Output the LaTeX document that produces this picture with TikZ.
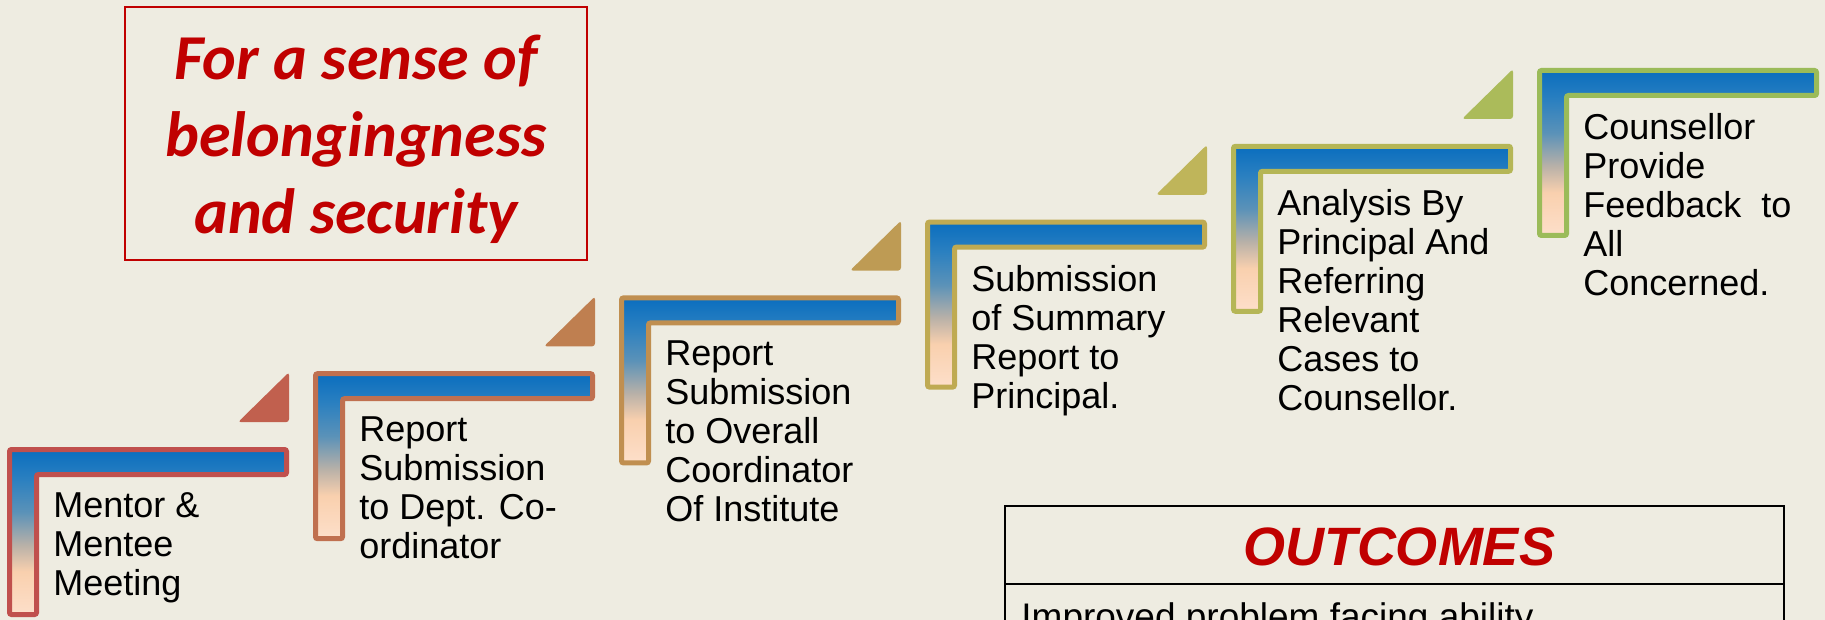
\documentclass[tikz,border=0pt]{standalone}
\usepackage{fontspec}
\setmainfont{Liberation Sans}
\newfontfamily\titlefont{Carlito}
\definecolor{bgcol}{HTML}{EEECE1}
\definecolor{darkred}{HTML}{C00000}
% border colours of the steps, red to green
\definecolor{s1}{HTML}{C0504D}
\definecolor{s2}{HTML}{C0704F}
\definecolor{s3}{HTML}{C08F50}
\definecolor{s4}{HTML}{BFAA52}
\definecolor{s5}{HTML}{B5B656}
\definecolor{s6}{HTML}{9BBB59}
% little triangles between the steps
\definecolor{t1}{HTML}{C1604E}
\definecolor{t2}{HTML}{BF7F50}
\definecolor{t3}{HTML}{BE9B54}
\definecolor{t4}{HTML}{BFB55A}
\definecolor{t5}{HTML}{ABBB5A}
\definecolor{bluetop}{HTML}{0A6EBF}
\definecolor{bluemid}{HTML}{2B80C0}
\definecolor{steel}{HTML}{5B92B8}
\definecolor{greyish}{HTML}{B9B1A8}
\definecolor{peach}{HTML}{F9D0AE}
\definecolor{peachlt}{HTML}{FDDFCA}
\pgfdeclareverticalshading{stepfade}{100bp}{color(0bp)=(peachlt); color(25bp)=(peachlt);
  color(38bp)=(peach); color(46bp)=(greyish); color(56bp)=(steel);
  color(66bp)=(bluemid); color(75bp)=(bluetop); color(100bp)=(bluetop)}
\begin{document}
\begin{tikzpicture}[x=0.5pt,y=-0.5pt,
  stepline/.style={line width=2.5pt,rounded corners=1pt},
  steptext/.style={anchor=north west,inner sep=0pt,align=left,
    font=\fontsize{18}{19.5}\selectfont}]
  \path[use as bounding box,clip] (0,0) rectangle (1825,620);
  \fill[bgcol] (0,0) rectangle (1825,620);
  % the six steps
  \foreach \k/\bc/\txt in {1/s1/{Mentor \&\\Mentee\\Meeting},
      2/s2/{Report\\Submission\\to Dept. Co-\\ordinator},
      3/s3/{Report\\Submission\\to Overall\\Coordinator\\Of Institute},
      4/s4/{Submission\\of Summary\\Report to\\Principal.},
      5/s5/{Analysis By\\Principal And\\Referring\\Relevant\\Cases to\\Counsellor.},
      6/s6/{Counsellor\\Provide\\Feedback~ to\\All\\Concerned.}}{
    \pgfmathsetmacro\X{7+306*(\k-1)}
    \pgfmathsetmacro\Y{447-75.8*(\k-1)}
    \shadedraw[stepline,draw=\bc,shading=stepfade] (\X+2.5,\Y+2.5) -- ++(277,0)
      -- ++(0,25) -- ++(-250,0) -- ++(0,140) -- ++(-27,0) -- cycle;
    \node[steptext] (s\k) at (\X+46,\Y+45) {\txt};
  }
  \foreach \k/\tc in {1/t1,2/t2,3/t3,4/t4,5/t5}{
    \pgfmathsetmacro\X{289+306*(\k-1)}
    \pgfmathsetmacro\Y{447-75.8*\k+1}
    \fill[\tc,rounded corners=1.5pt] (\X,\Y) -- (\X,\Y+50) -- (\X-51,\Y+50) -- cycle;
  }
  % title box
  \draw[darkred,line width=1pt] (125,7) rectangle (587,260);
  \node[text=darkred,align=center,inner sep=0pt,
    font=\titlefont\bfseries\itshape\fontsize{32}{38.5}\selectfont]
    (title) at (356,139) {For a sense of\\belongingness\\and security};
  % outcomes table
  \draw[line width=1pt] (1005,640) |- (1784,506) -- (1784,640);
  \draw[line width=1pt] (1005,584) -- (1784,584);
  \node[anchor=base,inner sep=0pt,text=darkred,
    font=\bfseries\itshape\fontsize{27}{32}\selectfont]
    (outhead) at (1399,565) {OUTCOMES};
  \node[anchor=base west,inner sep=0pt,font=\fontsize{18.5}{20}\selectfont]
    (outitem) at (1021,629) {Improved problem facing ability};
\end{tikzpicture}
\end{document}
